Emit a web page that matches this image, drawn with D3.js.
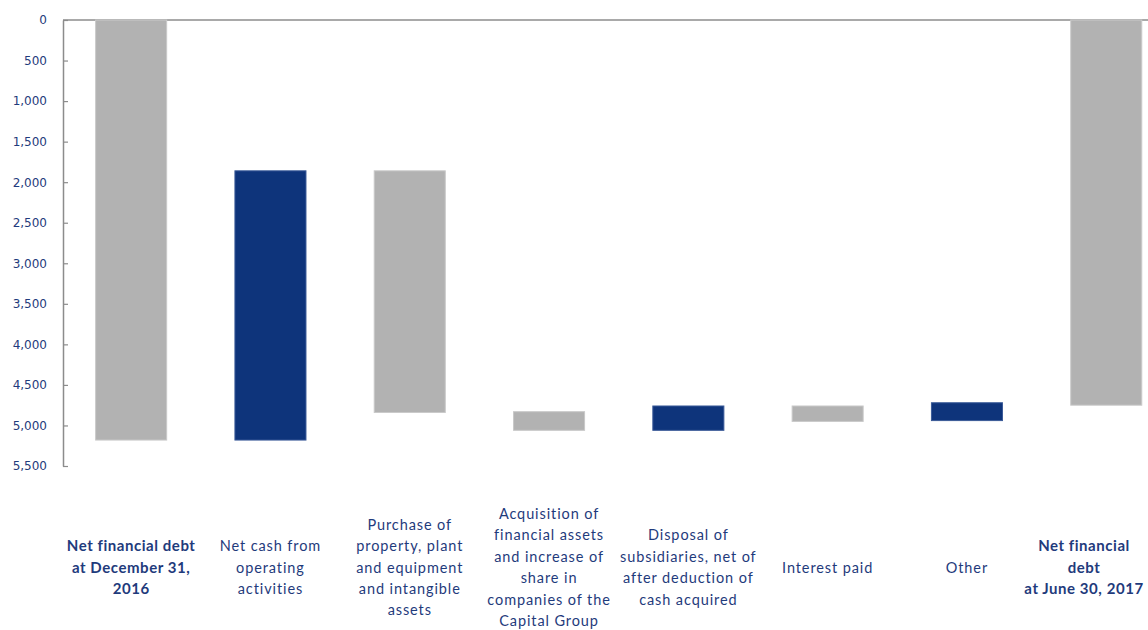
<!DOCTYPE html>
<html>
<head>
<meta charset="utf-8">
<script src="https://cdn.jsdelivr.net/npm/d3@7/dist/d3.min.js"></script>
<style>
  html, body { margin: 0; padding: 0; background: #fff; }
  svg { display: block; }
</style>
</head>
<body>
<svg id="chart" width="1148" height="630"></svg>
<script>
// Net financial debt bridge, December 31, 2016 to June 30, 2017 (in millions)
const categories = [
  "Net financial debt at December 31, 2016",
  "Net cash from operating activities",
  "Purchase of property, plant and equipment and intangible assets",
  "Acquisition of financial assets and increase of share in companies of the Capital Group",
  "Disposal of subsidiaries, net of after deduction of cash acquired",
  "Interest paid",
  "Other",
  "Net financial debt at June 30, 2017"
];
const categoryLines = [
  ["Net financial debt", "at December 31,", "2016"],
  ["Net cash from", "operating", "activities"],
  ["Purchase of", "property, plant", "and equipment", "and intangible", "assets"],
  ["Acquisition of", "financial assets", "and increase of", "share in", "companies of the", "Capital Group"],
  ["Disposal of", "subsidiaries, net of", "after deduction of", "cash acquired"],
  ["Interest paid"],
  ["Other"],
  ["Net financial", "debt", "at June 30, 2017"]
];
// bar extents (debt level at top and bottom of each floating bar)
const barStart = [0, 1860, 1860, 4830, 4760, 4760, 4720, 0];
const barEnd   = [5180, 5180, 4840, 5060, 5060, 4950, 4940, 4750];
// kind: total / increase in debt / decrease in debt
const barKind  = ["total", "decrease", "increase", "increase", "decrease", "increase", "decrease", "total"];
const yTicks = [0, 500, 1000, 1500, 2000, 2500, 3000, 3500, 4000, 4500, 5000, 5500];

const W = 1148, H = 630;
const plotLeft = 63, plotTop = 20, plotBottom = 466;
const svg = d3.select("#chart");

const step = 139.3;
const x = d3.scaleBand()
  .domain(d3.range(categories.length))
  .range([plotLeft - 1.5, plotLeft - 1.5 + step * categories.length])
  .paddingInner(0.49)
  .paddingOuter(0.245);

const y = d3.scaleLinear().domain([0, 5500]).range([plotTop, plotBottom]);

const fill = { total: "#b2b2b2", increase: "#b2b2b2", decrease: "#0e347b" };
const edge = { total: "#c9c9c9", increase: "#c9c9c9", decrease: "#3a5a98" };

// top baseline at zero
svg.append("line")
  .attr("x1", plotLeft).attr("x2", W)
  .attr("y1", y(0)).attr("y2", y(0))
  .attr("stroke", "#8c8c8c").attr("stroke-width", 1.5);

// bars
svg.append("g").selectAll("rect")
  .data(categories)
  .join("rect")
  .attr("x", (d, i) => x(i))
  .attr("width", x.bandwidth())
  .attr("y", (d, i) => y(barStart[i]))
  .attr("height", (d, i) => y(barEnd[i]) - y(barStart[i]))
  .attr("fill", (d, i) => fill[barKind[i]])
  .attr("stroke", (d, i) => edge[barKind[i]])
  .attr("stroke-width", 1);

// y axis
const yAxis = d3.axisLeft(y)
  .tickValues(yTicks)
  .tickFormat(d3.format(","))
  .tickSizeInner(-5)
  .tickSizeOuter(0)
  .tickPadding(16);

const gy = svg.append("g")
  .attr("transform", `translate(${plotLeft},0)`)
  .call(yAxis);
gy.select(".domain").attr("stroke", "#8c8c8c").attr("stroke-width", 1.5);
gy.selectAll(".tick line").attr("stroke", "#8c8c8c").attr("stroke-width", 1.2);
gy.selectAll(".tick text")
  .attr("fill", "#1f3b7c")
  .attr("font-family", "DejaVu Sans, Verdana, sans-serif")
  .attr("font-size", 12);

// category labels, vertically centred under the plot
const lineH = 21.4, labelMid = 567.5;
const labels = svg.append("g")
  .attr("font-family", "Lato, 'Open Sans', sans-serif")
  .attr("fill", "#1f3b7c")
  .attr("text-anchor", "middle");

categoryLines.forEach((lines, i) => {
  // keep the last label's block inside the right edge
  const cx = Math.min(x(i) + x.bandwidth() / 2, W - 64);
  const bold = barKind[i] === "total";
  const t = labels.append("text")
    .attr("font-size", bold ? 15 : 14.5)
    .attr("font-weight", bold ? 700 : 400)
    .attr("letter-spacing", bold ? 0.55 : 0.9);
  const y0 = labelMid - (lines.length - 1) * lineH / 2;
  lines.forEach((ln, j) => {
    t.append("tspan")
      .attr("x", cx)
      .attr("y", y0 + j * lineH)
      .attr("dy", "0.35em")
      .text(ln);
  });
});
</script>
</body>
</html>
